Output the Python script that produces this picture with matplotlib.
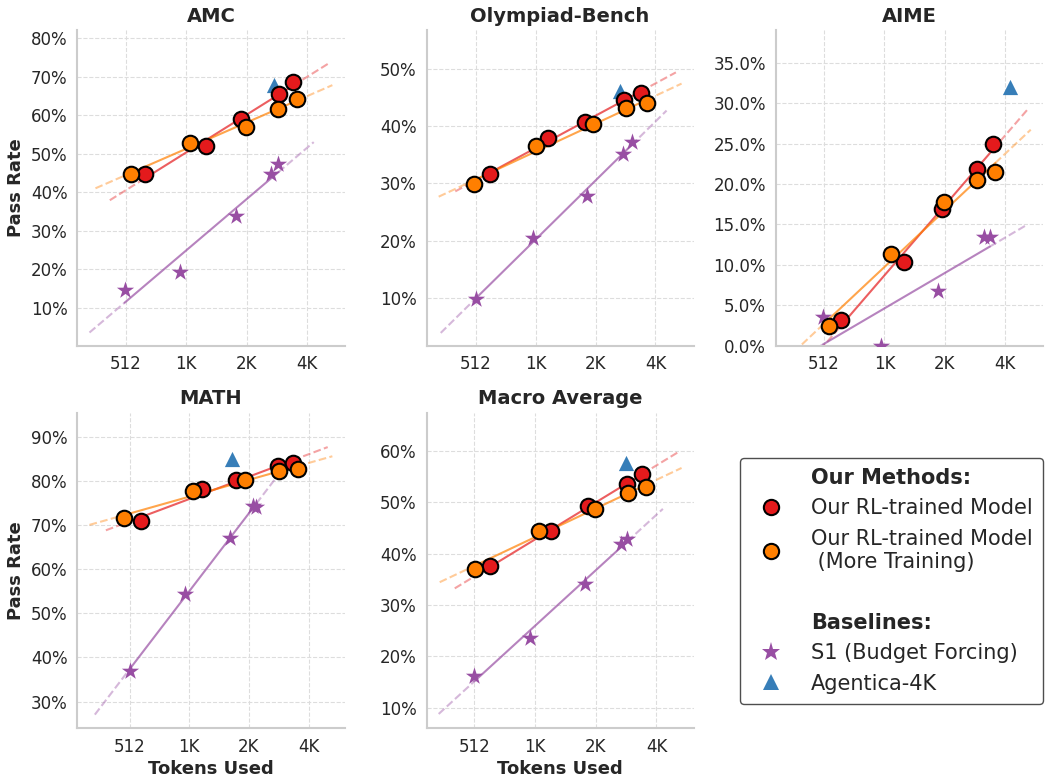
import numpy as np
import matplotlib
matplotlib.use("Agg")
import matplotlib.pyplot as plt
import seaborn as sns
from matplotlib.lines import Line2D
from matplotlib.ticker import FuncFormatter, MultipleLocator, NullLocator

# values (tokens used, pass rate in %)
benchmarks = ["AMC", "Olympiad-Bench", "AIME", "MATH", "Macro Average"]

rl_tokens = [[639, 1280, 1927, 2978, 3496],
             [606, 1181, 1818, 2830, 3457],
             [622, 1279, 1991, 2961, 3555],
             [582, 1181, 1761, 2869, 3414],
             [615, 1226, 1873, 2927, 3489]]
rl_acc = [[44.7, 51.9, 58.9, 65.4, 68.5],
          [31.6, 37.9, 40.7, 44.6, 45.8],
          [3.2, 10.3, 16.9, 21.9, 24.9],
          [70.9, 78.2, 80.3, 83.3, 84.1],
          [37.5, 44.5, 49.2, 53.6, 55.6]]

more_tokens = [[542, 1074, 2033, 2944, 3660],
               [500, 1028, 1985, 2919, 3692],
               [544, 1107, 2036, 2949, 3651],
               [481, 1068, 1947, 2902, 3604],
               [518, 1073, 2021, 2961, 3637]]
more_acc = [[44.7, 52.7, 57.0, 61.7, 64.1],
            [29.9, 36.5, 40.3, 43.1, 44.0],
            [2.5, 11.3, 17.8, 20.5, 21.5],
            [71.6, 77.7, 80.2, 82.2, 82.8],
            [37.1, 44.5, 48.8, 51.8, 53.0]]

s1_tokens = [[506, 951, 1805, 2728, 2955],
             [512, 989, 1846, 2819, 3104],
             [508, 979, 1895, 3195, 3422],
             [512, 974, 1649, 2145, 2231],
             [512, 968, 1810, 2733, 2939]]
s1_acc = [[14.6, 19.3, 33.8, 44.7, 47.2],
          [9.8, 20.5, 27.8, 35.2, 37.3],
          [3.5, 0.0, 6.8, 13.4, 13.4],
          [37.0, 54.4, 67.1, 74.4, 74.1],
          [16.2, 23.6, 34.0, 41.9, 42.9]]

agentica_tokens = [2801, 2702, 4334, 1688, 2882]
agentica_acc = [67.8, 46.2, 32.0, 84.9, 57.7]

ylims = [(0.2, 82), (1.7, 56.7), (0, 39), (24, 95.5), (6, 67.5)]
ystep = [10, 10, 5, 10, 10]

xticks = [512, 1024, 2048, 4096]
xticklabels = ["512", "1K", "2K", "4K"]

RED, ORANGE, PURPLE, BLUE = "#e41a1c", "#ff7f00", "#984ea3", "#377eb8"

sns.set_theme(style="whitegrid")
plt.rcParams['font.family'] = ['DejaVu Sans']


def trend(ax, x, y, color):
    # linear fit in log2(tokens), solid over data, dashed 1.5x beyond
    lx = np.log2(x)
    k, b = np.polyfit(lx, y, 1)
    lo, hi = lx.min(), lx.max()
    ext = np.log2(1.5)
    xs = np.array([lo, hi])
    ax.plot(2 ** xs, k * xs + b, color=color, alpha=0.7, lw=1.5, zorder=2)
    for a0, a1 in [(lo - ext, lo), (hi, hi + ext)]:
        xs = np.array([a0, a1])
        ax.plot(2 ** xs, k * xs + b, color=color, alpha=0.4, lw=1.5, ls='--', zorder=2)


fig, axes = plt.subplots(2, 3, figsize=(10.45, 7.77), dpi=100)
fig.subplots_adjust(left=0.074, right=0.998, top=0.961, bottom=0.063,
                    wspace=0.307, hspace=0.212)

for i, name in enumerate(benchmarks):
    ax = axes.flat[i]
    trend(ax, rl_tokens[i], rl_acc[i], RED)
    trend(ax, more_tokens[i], more_acc[i], ORANGE)
    trend(ax, s1_tokens[i], s1_acc[i], PURPLE)

    ax.scatter(s1_tokens[i], s1_acc[i], marker='*', s=170, color=PURPLE,
               linewidths=0, zorder=3)
    ax.scatter(agentica_tokens[i], agentica_acc[i], marker='^', s=120,
               color=BLUE, linewidths=0, zorder=3)
    ax.scatter(rl_tokens[i], rl_acc[i], marker='o', s=125, color=RED,
               edgecolors='black', linewidths=1.5, zorder=4)
    ax.scatter(more_tokens[i], more_acc[i], marker='o', s=125, color=ORANGE,
               edgecolors='black', linewidths=1.5, zorder=4)

    ax.set_xscale('log', base=2)
    ax.set_xticks(xticks)
    ax.set_xticklabels(xticklabels)
    ax.xaxis.set_minor_locator(NullLocator())
    ax.set_ylim(*ylims[i])
    ax.yaxis.set_major_locator(MultipleLocator(ystep[i]))
    if name == "AIME":
        ax.yaxis.set_major_formatter(FuncFormatter(lambda v, p: f"{v:.1f}%"))
    else:
        ax.yaxis.set_major_formatter(FuncFormatter(lambda v, p: f"{v:.0f}%"))
    ax.tick_params(labelsize=12, colors="#262626", pad=7, length=0)

    ax.set_title(name, fontsize=14, fontweight='bold', color="#262626")
    ax.grid(True, ls='--', lw=0.8, color='#dddddd')
    for side in ['top', 'right']:
        ax.spines[side].set_visible(False)
    for side in ['left', 'bottom']:
        ax.spines[side].set_color('#cccccc')
        ax.spines[side].set_linewidth(1.5)

    if i % 3 == 0:
        ax.set_ylabel("Pass Rate", fontsize=13, fontweight='bold', color="#262626")
    if i >= 3:
        ax.set_xlabel("Tokens Used", fontsize=13, fontweight='bold', color="#262626",
                      labelpad=3)

axes[1, 2].axis('off')

handles = [
    Line2D([], [], ls='none', label='Our Methods:'),
    Line2D([], [], marker='o', ls='none', mfc=RED, mec='black', mew=1.5, ms=11,
           label='Our RL-trained Model'),
    Line2D([], [], marker='o', ls='none', mfc=ORANGE, mec='black', mew=1.5, ms=11,
           label='Our RL-trained Model\n (More Training)'),
    Line2D([], [], ls='none', label=' '),
    Line2D([], [], ls='none', label='Baselines:'),
    Line2D([], [], marker='*', ls='none', color=PURPLE, mew=0, ms=14,
           label='S1 (Budget Forcing)'),
    Line2D([], [], marker='^', ls='none', color=BLUE, mew=0, ms=11,
           label='Agentica-4K'),
]
leg = fig.legend(handles=handles, loc='upper right', bbox_to_anchor=(0.998, 0.411),
                 borderaxespad=0, borderpad=0.5, handletextpad=0.9,
                 fontsize=15, frameon=True, fancybox=True)
leg.get_frame().set_edgecolor('#222222')
leg.get_frame().set_linewidth(1.0)
for t in leg.get_texts():
    t.set_color("#262626")
    if t.get_text() in ('Our Methods:', 'Baselines:'):
        t.set_fontweight('bold')

fig.savefig("out.png", dpi=100)
